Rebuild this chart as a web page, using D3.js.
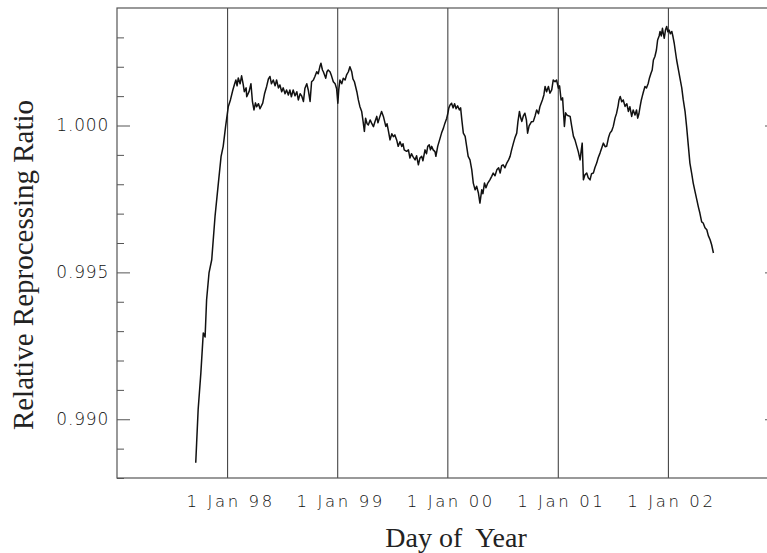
<!DOCTYPE html>
<html>
<head>
<meta charset="utf-8">
<script src="https://cdn.jsdelivr.net/npm/d3@7"></script>
<style>
  html, body { margin: 0; padding: 0; background: #fff; }
  svg { display: block; }
  .tick text { font-family: "DejaVu Sans", sans-serif; font-weight: 200; fill: #111; }
  .title { font-family: "Liberation Serif", "Times New Roman", serif; fill: #222; }
</style>
</head>
<body>
<svg id="chart" width="767" height="553"></svg>
<script>
// Days elapsed since 1 Jan 1997 for each sample
const dayNumber = [
  261, 264, 269, 278, 286, 292, 297, 305, 314, 325, 336, 345, 352, 360, 369, 376, 384, 390, 394, 398,
  402, 408, 413, 418, 422, 428, 430, 438, 444, 449, 454, 459, 463, 469, 474, 483, 489, 496, 502, 507,
  512, 518, 524, 529, 535, 540, 546, 551, 557, 562, 568, 573, 578, 584, 590, 596, 601, 607, 612, 618,
  623, 629, 634, 640, 645, 651, 656, 662, 667, 673, 676, 681, 684, 692, 696, 700, 706, 711, 717, 723,
  728, 732, 735, 739, 745, 750, 756, 761, 767, 772, 778, 782, 787, 795, 800, 805, 811, 815, 820, 824,
  829, 833, 839, 844, 850, 855, 861, 865, 870, 877, 883, 891, 895, 899, 905, 911, 916, 921, 927, 932,
  938, 944, 948, 952, 960, 966, 971, 976, 981, 988, 993, 999, 1004, 1010, 1014, 1021, 1026, 1030, 1035, 1039,
  1043, 1048, 1054, 1057, 1063, 1071, 1076, 1082, 1087, 1093, 1097, 1100, 1104, 1109, 1114, 1119, 1124, 1129, 1135, 1139,
  1143, 1148, 1154, 1159, 1164, 1170, 1176, 1181, 1187, 1192, 1198, 1203, 1209, 1213, 1218, 1223, 1228, 1236, 1242, 1247,
  1253, 1259, 1265, 1270, 1275, 1280, 1286, 1292, 1298, 1303, 1308, 1314, 1319, 1325, 1329, 1334, 1338, 1342, 1347, 1352,
  1357, 1361, 1366, 1374, 1380, 1386, 1391, 1397, 1402, 1410, 1415, 1419, 1424, 1430, 1435, 1441, 1446, 1452, 1457, 1463,
  1467, 1472, 1477, 1483, 1487, 1491, 1496, 1502, 1507, 1513, 1518, 1524, 1529, 1535, 1539, 1542, 1546, 1551, 1557, 1562,
  1568, 1573, 1579, 1584, 1590, 1595, 1601, 1607, 1612, 1618, 1623, 1629, 1634, 1640, 1645, 1651, 1656, 1661, 1664, 1668,
  1673, 1678, 1684, 1690, 1695, 1700, 1706, 1711, 1717, 1722, 1726, 1730, 1734, 1738, 1741, 1745, 1750, 1755, 1761, 1765,
  1770, 1774, 1778, 1783, 1788, 1792, 1797, 1800, 1804, 1808, 1811, 1814, 1818, 1822, 1826, 1830, 1834, 1839, 1843, 1847,
  1851, 1855, 1861, 1866, 1872, 1877, 1883, 1888, 1894, 1899, 1905, 1910, 1916, 1922, 1927, 1932, 1938, 1943, 1949, 1955,
  1960, 1966, 1971, 1977
];

// Relative reprocessing ratio at each sample
const ratio = [
  0.98852, 0.98920, 0.99033, 0.99158, 0.99294, 0.99280, 0.99407, 0.99498, 0.99543, 0.99691,
  0.99804, 0.99895, 0.99929, 0.99997, 1.00065, 1.00087, 1.00121, 1.00142, 1.00155, 1.00135,
  1.00162, 1.00142, 1.00169, 1.00142, 1.00115, 1.00128, 1.00098, 1.00116, 1.00142, 1.00081,
  1.00053, 1.00077, 1.00064, 1.00074, 1.00057, 1.00076, 1.00108, 1.00133, 1.00159, 1.00167,
  1.00142, 1.00155, 1.00135, 1.00155, 1.00128, 1.00138, 1.00115, 1.00128, 1.00108, 1.00121,
  1.00104, 1.00121, 1.00098, 1.00121, 1.00101, 1.00115, 1.00087, 1.00108, 1.00101, 1.00082,
  1.00127, 1.00142, 1.00121, 1.00082, 1.00149, 1.00155, 1.00167, 1.00183, 1.00176, 1.00203,
  1.00212, 1.00189, 1.00183, 1.00161, 1.00183, 1.00189, 1.00183, 1.00169, 1.00149, 1.00142,
  1.00125, 1.00076, 1.00121, 1.00155, 1.00142, 1.00161, 1.00155, 1.00172, 1.00183, 1.00200,
  1.00183, 1.00159, 1.00149, 1.00115, 1.00087, 1.00065, 1.00048, 1.00019, 0.99980, 1.00025,
  1.00006, 1.00002, 1.00019, 1.00008, 0.99996, 1.00013, 1.00031, 1.00009, 1.00026, 1.00048,
  1.00031, 0.99997, 1.00006, 0.99985, 0.99951, 0.99972, 0.99962, 0.99968, 0.99951, 0.99929,
  0.99945, 0.99929, 0.99938, 0.99917, 0.99912, 0.99917, 0.99889, 0.99904, 0.99894, 0.99883,
  0.99897, 0.99866, 0.99889, 0.99895, 0.99880, 0.99917, 0.99904, 0.99929, 0.99934, 0.99917,
  0.99929, 0.99917, 0.99911, 0.99895, 0.99929, 0.99957, 0.99975, 0.99991, 1.00008, 1.00025,
  1.00043, 1.00060, 1.00070, 1.00076, 1.00060, 1.00074, 1.00057, 1.00067, 1.00053, 1.00060,
  1.00019, 0.99974, 0.99963, 0.99929, 0.99895, 0.99883, 0.99849, 0.99804, 0.99781, 0.99793,
  0.99770, 0.99736, 0.99781, 0.99768, 0.99804, 0.99788, 0.99802, 0.99815, 0.99827, 0.99838,
  0.99829, 0.99849, 0.99856, 0.99838, 0.99863, 0.99866, 0.99856, 0.99872, 0.99883, 0.99895,
  0.99917, 0.99940, 0.99958, 0.99974, 1.00013, 1.00048, 1.00026, 1.00014, 1.00033, 1.00042,
  1.00019, 0.99974, 0.99999, 1.00013, 1.00014, 1.00033, 1.00053, 1.00040, 1.00065, 1.00087,
  1.00104, 1.00133, 1.00115, 1.00133, 1.00110, 1.00121, 1.00155, 1.00149, 1.00155, 1.00127,
  1.00135, 1.00087, 1.00094, 0.99997, 1.00043, 1.00036, 1.00033, 1.00031, 0.99999, 0.99963,
  0.99951, 0.99929, 0.99911, 0.99883, 0.99917, 0.99940, 0.99815, 0.99832, 0.99838, 0.99822,
  0.99815, 0.99836, 0.99838, 0.99856, 0.99872, 0.99890, 0.99906, 0.99924, 0.99940, 0.99928,
  0.99929, 0.99958, 0.99974, 0.99982, 0.99997, 1.00026, 1.00042, 1.00067, 1.00087, 1.00099,
  1.00081, 1.00087, 1.00065, 1.00074, 1.00048, 1.00064, 1.00031, 1.00053, 1.00036, 1.00053,
  1.00025, 1.00040, 1.00065, 1.00087, 1.00099, 1.00115, 1.00133, 1.00128, 1.00144, 1.00162,
  1.00178, 1.00189, 1.00223, 1.00235, 1.00257, 1.00291, 1.00305, 1.00320, 1.00305, 1.00331,
  1.00312, 1.00297, 1.00325, 1.00337, 1.00319, 1.00325, 1.00312, 1.00320, 1.00302, 1.00280,
  1.00251, 1.00223, 1.00189, 1.00161, 1.00128, 1.00087, 1.00047, 0.99997, 0.99929, 0.99872,
  0.99836, 0.99804, 0.99775, 0.99747, 0.99723, 0.99702, 0.99672, 0.99668, 0.99652, 0.99645,
  0.99625, 0.99611, 0.99594, 0.99566
];

const yearMarks = [1998, 1999, 2000, 2001, 2002];
const yMajorTicks = [0.990, 0.995, 1.000];
const yMinorTicks = [0.988, 0.989, 0.991, 0.992, 0.993, 0.994, 0.996, 0.997, 0.998, 0.999, 1.001, 1.002, 1.003];
const xDomainYears = [1997, 2003];
const yDomain = [0.988, 1.004];

const origin = new Date(1997, 0, 1);
const series = dayNumber.map((d, i) => ({ date: d3.timeDay.offset(origin, d), value: ratio[i] }));

const svg = d3.select("#chart");
const plotLeft = 117, plotRight = 778, plotTop = 8, plotBottom = 478;

const x = d3.scaleTime()
  .domain(xDomainYears.map(yr => new Date(yr, 0, 1)))
  .range([plotLeft, plotRight]);
const y = d3.scaleLinear().domain(yDomain).range([plotBottom, plotTop]);

const frameColor = "#555";

// Yearly grid lines and date labels along the bottom
const xAxis = svg.append("g")
  .attr("transform", `translate(0,${plotBottom})`)
  .call(d3.axisBottom(x)
    .tickValues(yearMarks.map(yr => new Date(yr, 0, 1)))
    .tickSize(-(plotBottom - plotTop))
    .tickPadding(17)
    .tickFormat(d3.timeFormat("1 Jan %y")));
xAxis.select(".domain").remove();
xAxis.selectAll(".tick line").attr("stroke", "#333").attr("stroke-width", 1);
xAxis.selectAll(".tick text")
  .attr("font-size", 16.5)
  .attr("letter-spacing", 2.6)
  .attr("dx", 3);

// Left axis: major and minor ticks pointing into the plot
const yAxisLeft = svg.append("g")
  .attr("transform", `translate(${plotLeft},0)`)
  .call(d3.axisLeft(y).tickValues(yMajorTicks).tickSize(-13).tickPadding(8).tickFormat(d3.format(".3f")));
yAxisLeft.select(".domain").remove();
yAxisLeft.selectAll(".tick line").attr("stroke", frameColor);
yAxisLeft.selectAll(".tick text").attr("font-size", 17).attr("letter-spacing", 0.8);

const yMinorLeft = svg.append("g")
  .attr("transform", `translate(${plotLeft},0)`)
  .call(d3.axisLeft(y).tickValues(yMinorTicks).tickSize(-7).tickFormat(""));
yMinorLeft.select(".domain").remove();
yMinorLeft.selectAll(".tick line").attr("stroke", frameColor);

// Right axis mirrors the left ticks
const yAxisRight = svg.append("g")
  .attr("transform", `translate(${plotRight},0)`)
  .call(d3.axisRight(y).tickValues(yMajorTicks).tickSize(-13).tickFormat(""));
yAxisRight.select(".domain").remove();
yAxisRight.selectAll(".tick line").attr("stroke", frameColor);

const yMinorRight = svg.append("g")
  .attr("transform", `translate(${plotRight},0)`)
  .call(d3.axisRight(y).tickValues(yMinorTicks).tickSize(-7).tickFormat(""));
yMinorRight.select(".domain").remove();
yMinorRight.selectAll(".tick line").attr("stroke", frameColor);

// Plot frame
svg.append("rect")
  .attr("x", plotLeft).attr("y", plotTop)
  .attr("width", plotRight - plotLeft).attr("height", plotBottom - plotTop)
  .attr("fill", "none")
  .attr("stroke", frameColor)
  .attr("stroke-width", 1.2);

// Ratio curve
const line = d3.line().x(d => x(d.date)).y(d => y(d.value));
svg.append("path")
  .datum(series)
  .attr("d", line)
  .attr("fill", "none")
  .attr("stroke", "#111")
  .attr("stroke-width", 1.5)
  .attr("stroke-linejoin", "round");

// Axis titles
svg.append("text")
  .attr("class", "title")
  .attr("transform", `translate(33,${(plotTop + plotBottom) / 2 + 22}) rotate(-90)`)
  .attr("text-anchor", "middle")
  .attr("font-size", 29)
  .text("Relative Reprocessing Ratio");

svg.append("text")
  .attr("class", "title")
  .attr("x", 456)
  .attr("y", 547)
  .attr("text-anchor", "middle")
  .attr("font-size", 28)
  .attr("xml:space", "preserve")
  .style("white-space", "pre")
  .text("Day of  Year");
</script>
</body>
</html>
